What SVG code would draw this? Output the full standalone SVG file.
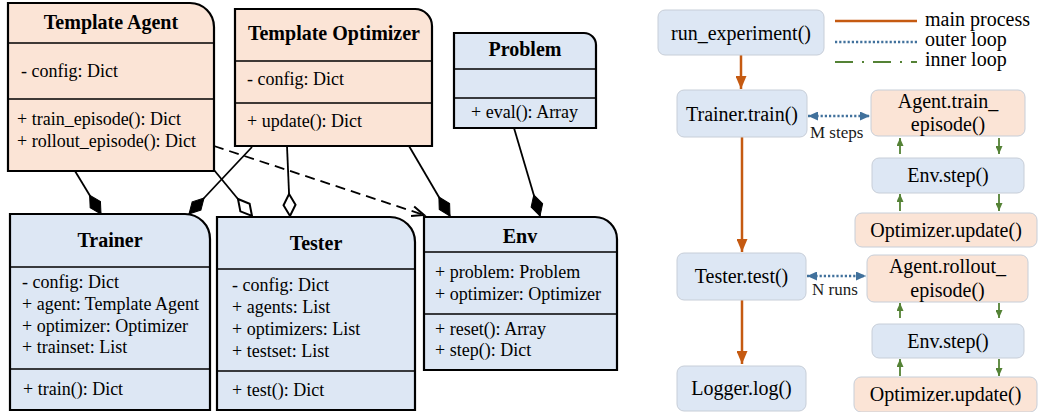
<svg xmlns="http://www.w3.org/2000/svg" width="1038" height="412" viewBox="0 0 1038 412">
<style>
text{font-family:"Liberation Serif","Times New Roman",serif;fill:#000}
.t{font-size:20px;font-weight:bold;text-anchor:middle}
.a{font-size:18px}
.r{font-size:20px;text-anchor:middle}
.lg{font-size:20px}
.sm{font-size:17px;fill:#1a1a1a}
.box{stroke:#000;stroke-width:2.2}
.div{stroke:#000;stroke-width:1.3}
.pe{fill:#fbe4d6}
.bl{fill:#dde7f4}
.fb{stroke:#c7ced8;stroke-width:1}
.uml{stroke:#000;stroke-width:1.8;fill:none}
.main{stroke:#c55a11;stroke-width:2.5;fill:none}
.outer{stroke:#41719c;stroke-width:2.5;stroke-dasharray:2.2 2;fill:none}
.inner{stroke:#548235;stroke-width:1.8;fill:none}
</style>
<defs>
<marker id="dF" markerUnits="userSpaceOnUse" markerWidth="24" markerHeight="14" refX="22" refY="6" orient="auto" overflow="visible"><path d="M0,6 L11,0 L22,6 L11,12 z" fill="#000" stroke="#000" stroke-width="1"/></marker>
<marker id="dO" markerUnits="userSpaceOnUse" markerWidth="24" markerHeight="14" refX="22" refY="6" orient="auto" overflow="visible"><path d="M0,6 L11,0 L22,6 L11,12 z" fill="#fff" stroke="#000" stroke-width="2"/></marker>
<marker id="oA" markerUnits="userSpaceOnUse" markerWidth="14" markerHeight="12" refX="12" refY="5" orient="auto" overflow="visible"><path d="M0,0 L12,5 L0,10" fill="none" stroke="#000" stroke-width="2"/></marker>
<marker id="aM" markerUnits="userSpaceOnUse" markerWidth="13" markerHeight="11" refX="13" refY="5.5" orient="auto"><path d="M0,0 L13,5.5 L0,11 z" fill="#c55a11"/></marker>
<marker id="aO" markerUnits="userSpaceOnUse" markerWidth="10" markerHeight="9" refX="10" refY="4.5" orient="auto-start-reverse"><path d="M0,0 L10,4.5 L0,9 z" fill="#41719c"/></marker>
<marker id="aI" markerUnits="userSpaceOnUse" markerWidth="8" markerHeight="7" refX="8" refY="3.5" orient="auto"><path d="M0,0 L8,3.5 L0,7 z" fill="#548235"/></marker>
</defs>

<g id="connectors">
<line class="uml" x1="75" y1="171" x2="101" y2="214" marker-end="url(#dF)"/>
<line class="uml" x1="252" y1="147" x2="189" y2="214" marker-end="url(#dF)"/>
<line class="uml" x1="214" y1="170" x2="252" y2="216" marker-end="url(#dO)"/>
<line class="uml" x1="287" y1="146" x2="290" y2="216" marker-end="url(#dO)"/>
<line class="uml" x1="409" y1="146" x2="450" y2="216" marker-end="url(#dF)"/>
<line class="uml" x1="514" y1="128" x2="540" y2="216" marker-end="url(#dF)"/>
<line class="uml" x1="214" y1="146" x2="424" y2="215" stroke-width="2.2" stroke-dasharray="10 6" marker-end="url(#oA)"/>

<line class="main" x1="741" y1="55" x2="741" y2="89" marker-end="url(#aM)"/>
<line class="main" x1="742" y1="137" x2="742" y2="252" marker-end="url(#aM)"/>
<line class="main" x1="742" y1="300" x2="742" y2="364" marker-end="url(#aM)"/>
<line class="outer" x1="808" y1="116" x2="870" y2="116" marker-start="url(#aO)" marker-end="url(#aO)"/>
<line class="outer" x1="807" y1="276" x2="866" y2="276" marker-start="url(#aO)" marker-end="url(#aO)"/>
<line class="inner" x1="900" y1="154" x2="900" y2="138" marker-end="url(#aI)"/>
<line class="inner" x1="999" y1="138" x2="999" y2="154" marker-end="url(#aI)"/>
<line class="inner" x1="900" y1="211" x2="900" y2="194" marker-end="url(#aI)"/>
<line class="inner" x1="999" y1="194" x2="999" y2="211" marker-end="url(#aI)"/>
<line class="inner" x1="900" y1="318" x2="900" y2="303" marker-end="url(#aI)"/>
<line class="inner" x1="999" y1="303" x2="999" y2="318" marker-end="url(#aI)"/>
<line class="inner" x1="900" y1="376" x2="900" y2="359" marker-end="url(#aI)"/>
<line class="inner" x1="999" y1="359" x2="999" y2="376" marker-end="url(#aI)"/>
</g>

<g id="template-agent">
<path class="box pe" d="M8,3 H190 A24,24 0 0 1 214,27 V171 H8 Z"/>
<line class="div" x1="8" y1="43" x2="214" y2="43"/>
<line class="div" x1="8" y1="99" x2="214" y2="99"/>
<text class="t" x="111" y="29">Template Agent</text>
<text class="a" x="21" y="77">- config: Dict</text>
<text class="a" x="17" y="125">+ train_episode(): Dict</text>
<text class="a" x="17" y="147">+ rollout_episode(): Dict</text>
</g>

<g id="template-optimizer">
<path class="box pe" d="M235,9 H415 A17,17 0 0 1 432,26 V146 H235 Z"/>
<line class="div" x1="235" y1="61" x2="432" y2="61"/>
<line class="div" x1="235" y1="103" x2="432" y2="103"/>
<text class="t" x="334" y="40">Template Optimizer</text>
<text class="a" x="247" y="85">- config: Dict</text>
<text class="a" x="247" y="127">+ update(): Dict</text>
</g>

<g id="problem">
<path class="box bl" d="M454,33 H584 A12,12 0 0 1 596,45 V128 H454 Z"/>
<line class="div" x1="454" y1="69" x2="596" y2="69"/>
<line class="div" x1="454" y1="98" x2="596" y2="98"/>
<text class="t" x="525" y="56">Problem</text>
<text class="a" x="471" y="118">+ eval(): Array</text>
</g>

<g id="trainer">
<path class="box bl" d="M10,214 H185 A25,25 0 0 1 210,239 V410 H10 Z"/>
<line class="div" x1="10" y1="267" x2="210" y2="267"/>
<line class="div" x1="10" y1="369" x2="210" y2="369"/>
<text class="t" x="110" y="247">Trainer</text>
<text class="a" x="22" y="288">- config: Dict</text>
<text class="a" x="22" y="310">+ agent: Template Agent</text>
<text class="a" x="22" y="332">+ optimizer: Optimizer</text>
<text class="a" x="22" y="353">+ trainset: List</text>
<text class="a" x="23" y="395">+ train(): Dict</text>
</g>

<g id="tester">
<path class="box bl" d="M217,217 H390 A25,25 0 0 1 415,242 V410 H217 Z"/>
<line class="div" x1="217" y1="269" x2="415" y2="269"/>
<line class="div" x1="217" y1="371" x2="415" y2="371"/>
<text class="t" x="316" y="250">Tester</text>
<text class="a" x="232" y="291">- config: Dict</text>
<text class="a" x="232" y="313">+ agents: List</text>
<text class="a" x="232" y="335">+ optimizers: List</text>
<text class="a" x="232" y="357">+ testset: List</text>
<text class="a" x="232" y="396">+ test(): Dict</text>
</g>

<g id="env">
<path class="box bl" d="M424,217 H595 A22,22 0 0 1 617,239 V370 H424 Z"/>
<line class="div" x1="424" y1="252" x2="617" y2="252"/>
<line class="div" x1="424" y1="314" x2="617" y2="314"/>
<text class="t" x="520" y="243">Env</text>
<text class="a" x="435" y="278">+ problem: Problem</text>
<text class="a" x="435" y="300">+ optimizer: Optimizer</text>
<text class="a" x="435" y="335">+ reset(): Array</text>
<text class="a" x="435" y="356">+ step(): Dict</text>
</g>

<g id="legend">
<line class="main" x1="835" y1="21" x2="917" y2="21"/>
<line class="outer" x1="835" y1="42" x2="917" y2="42"/>
<line class="inner" x1="835" y1="62" x2="917" y2="62" stroke-width="2.2" stroke-dasharray="18 9 2 9"/>
<text class="lg" x="925" y="26">main process</text>
<text class="lg" x="925" y="46">outer loop</text>
<text class="lg" x="925" y="66">inner loop</text>
</g>

<g id="run-experiment">
<rect class="bl fb" x="658" y="10" width="166" height="45" rx="7"/>
<text class="r" x="741" y="40">run_experiment()</text>
</g>
<g id="trainer-train">
<rect class="bl fb" x="677" y="90" width="130" height="47" rx="7"/>
<text class="r" x="742" y="121">Trainer.train()</text>
</g>
<g id="agent-train-episode">
<rect class="pe fb" x="871" y="90" width="154" height="46" rx="7"/>
<text class="r" x="948" y="108">Agent.train_</text>
<text class="r" x="948" y="131">episode()</text>
</g>
<text class="sm" x="810" y="138">M steps</text>
<g id="env-step-1">
<rect class="bl fb" x="872" y="158" width="152" height="35" rx="7"/>
<text class="r" x="948" y="182">Env.step()</text>
</g>
<g id="optimizer-update-1">
<rect class="pe fb" x="855" y="213" width="182" height="34" rx="7"/>
<text class="r" x="946" y="237">Optimizer.update()</text>
</g>
<g id="tester-test">
<rect class="bl fb" x="677" y="253" width="129" height="47" rx="7"/>
<text class="r" x="741.5" y="283">Tester.test()</text>
</g>
<g id="agent-rollout-episode">
<rect class="pe fb" x="867" y="255" width="161" height="47" rx="7"/>
<text class="r" x="947.5" y="273">Agent.rollout_</text>
<text class="r" x="947.5" y="297">episode()</text>
</g>
<text class="sm" x="812" y="295">N runs</text>
<g id="env-step-2">
<rect class="bl fb" x="872" y="324" width="152" height="34" rx="7"/>
<text class="r" x="948" y="348">Env.step()</text>
</g>
<g id="optimizer-update-2">
<rect class="pe fb" x="854" y="377" width="183" height="35" rx="7"/>
<text class="r" x="945.5" y="401">Optimizer.update()</text>
</g>
<g id="logger-log">
<rect class="bl fb" x="677" y="366" width="129" height="45" rx="7"/>
<text class="r" x="741.5" y="395">Logger.log()</text>
</g>
</svg>
